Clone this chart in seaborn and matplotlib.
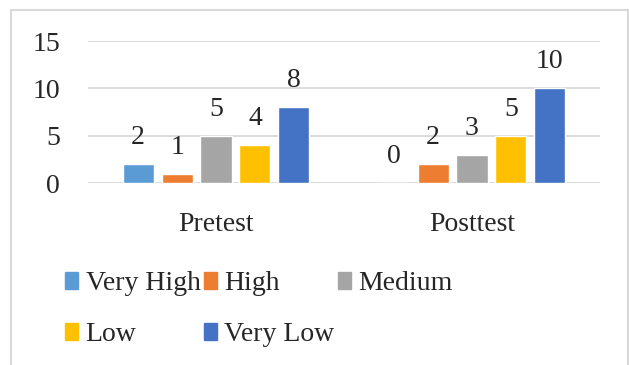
import pandas as pd
import matplotlib
matplotlib.use("Agg")
import matplotlib.pyplot as plt
from matplotlib.patches import Rectangle
import seaborn as sns

# data
tests = ["Pretest", "Posttest"]
levels = ["Very High", "High", "Medium", "Low", "Very Low"]
pretest = [2, 1, 5, 4, 8]
posttest = [0, 2, 3, 5, 10]
colors = ["#5B9BD5", "#ED7D31", "#A5A5A5", "#FFC000", "#4472C4"]

df = pd.DataFrame({
    "test": [tests[0]] * len(levels) + [tests[1]] * len(levels),
    "level": levels * 2,
    "count": pretest + posttest,
})

sns.set_style("white")
plt.rcParams["font.family"] = ["Liberation Serif", "DejaVu Serif"]
FS = 20

fig = plt.figure(figsize=(6.29, 3.65), dpi=100)
ax = fig.add_axes([88 / 629, 1 - 183 / 365, 512 / 629, 142 / 365])

sns.barplot(data=df, x="test", y="count", hue="level", hue_order=levels,
            palette=colors, saturation=1, width=0.76, gap=0.2,
            legend=False, ax=ax)

for c in ax.containers:
    ax.bar_label(c, fontsize=FS, padding=10)

ax.set_ylim(0, 15)
ax.set_yticks([0, 5, 10, 15])
ax.grid(axis="y", color="#d9d9d9", linewidth=1.3)
ax.set_axisbelow(True)
for s in ax.spines.values():
    s.set_visible(False)
ax.tick_params(axis="y", length=0, pad=20, labelsize=FS)
ax.tick_params(axis="x", length=0, pad=21, labelsize=FS)
ax.set_xlabel("")
ax.set_ylabel("")

# legend, filled row by row
handles = [Rectangle((0, 0), 1, 1, color=c) for c in colors]
order = [0, 3, 1, 4, 2]
fig.legend([handles[i] for i in order], [levels[i] for i in order],
           ncol=3, loc="upper left", bbox_to_anchor=(65 / 629, 1 - 271 / 365),
           frameon=False, fontsize=FS, handlelength=0.47, handleheight=0.57,
           handletextpad=0.27, columnspacing=0.12, labelspacing=0.95,
           borderpad=0, borderaxespad=0)

# chart frame
fig.patches.append(Rectangle((11 / 629, -0.05), 617 / 629, 1.05 - 10 / 365,
                             transform=fig.transFigure, fill=False,
                             edgecolor="#d9d9d9", linewidth=1.5))

fig.savefig("out.png", dpi=100)
